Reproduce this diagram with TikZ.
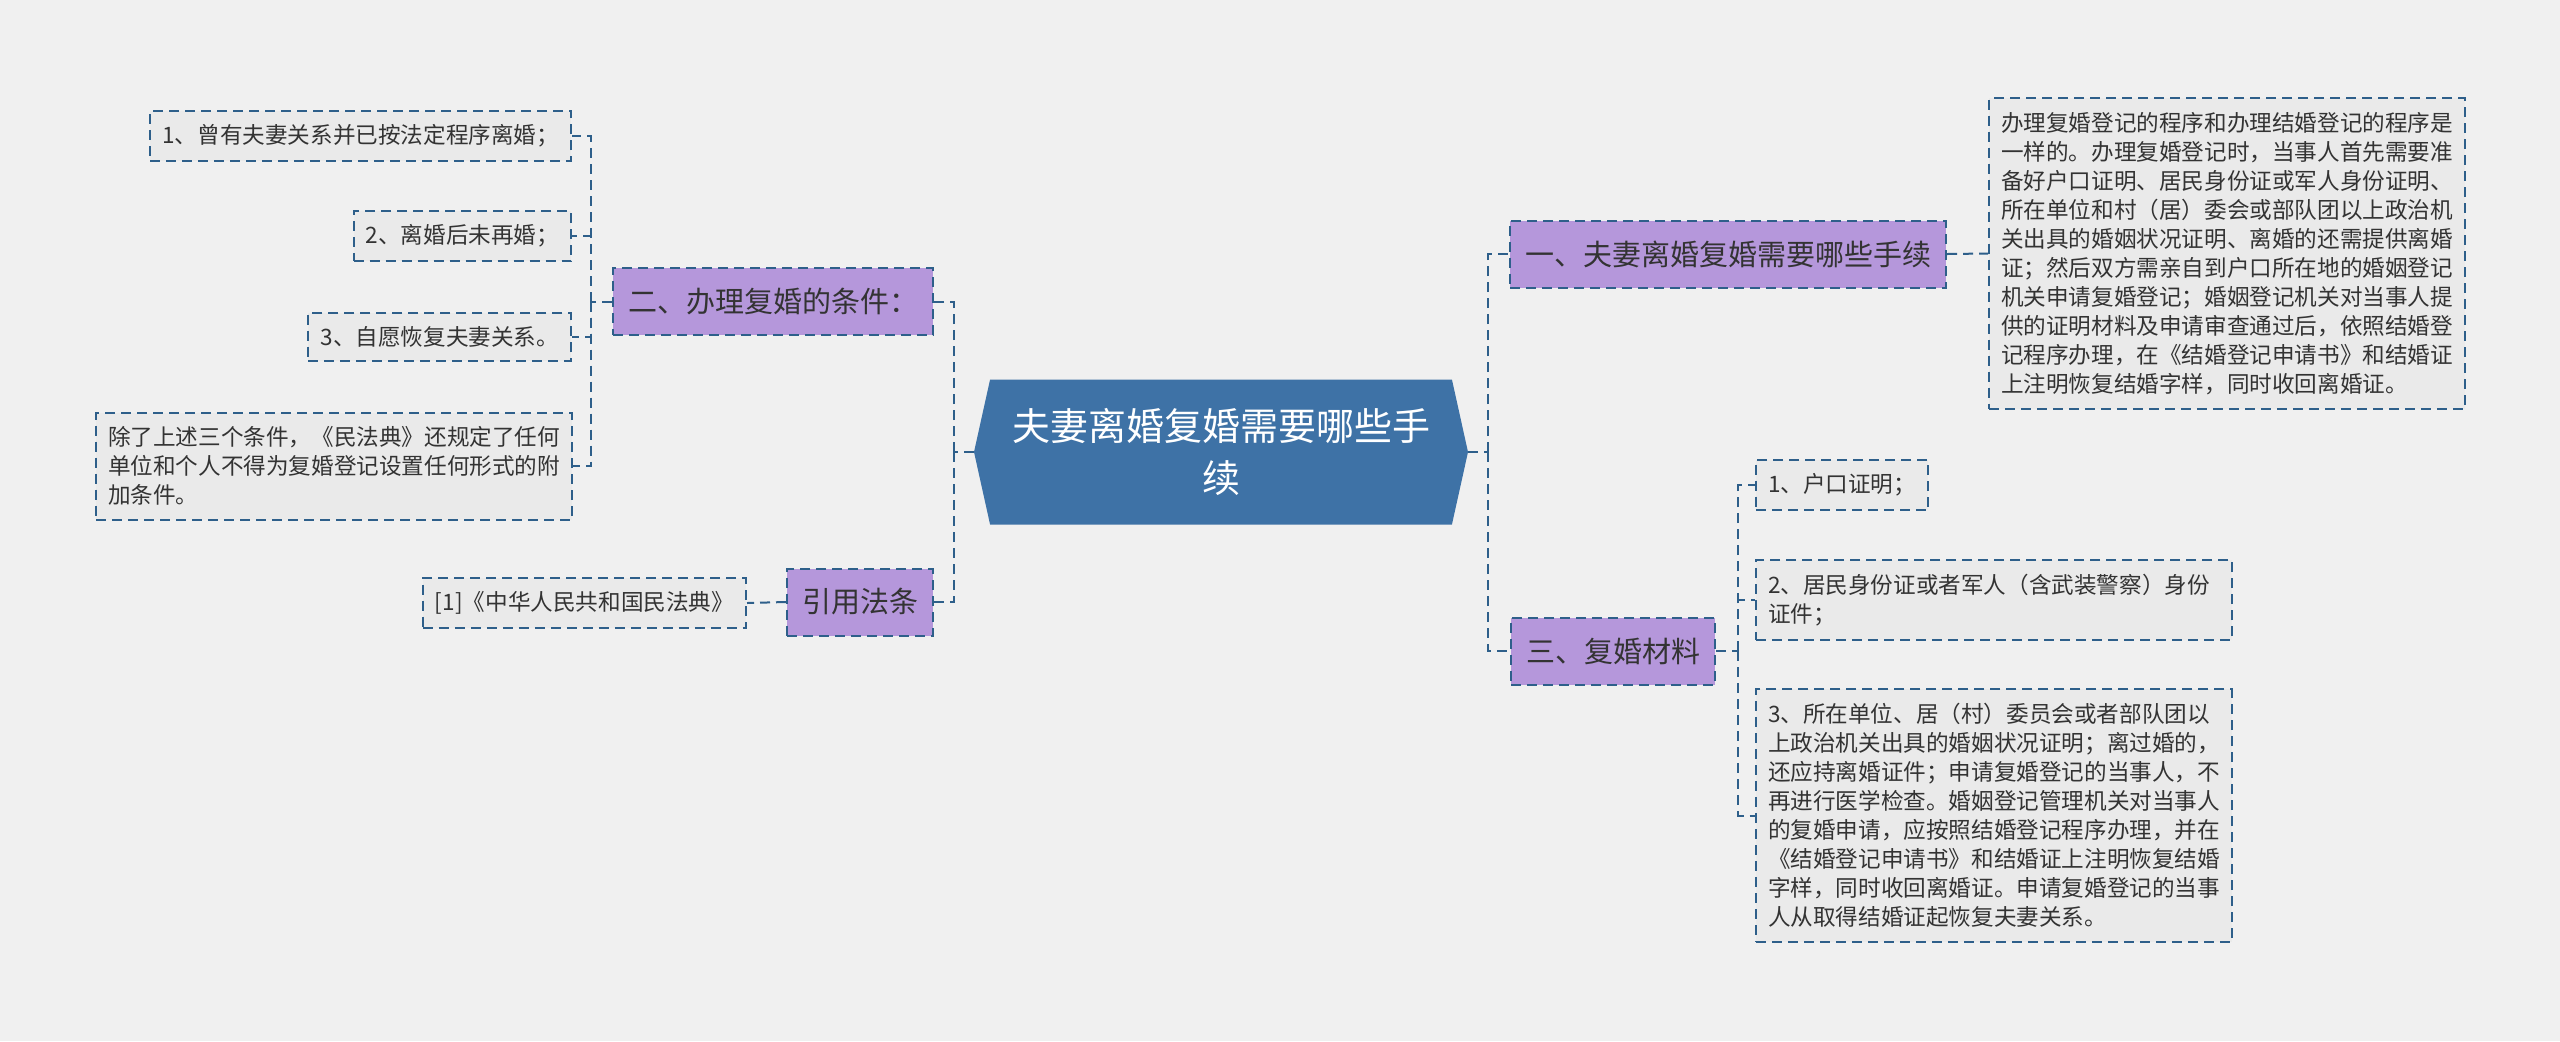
\documentclass[tikz,border=0pt]{standalone}
\usepackage{fontspec}
\setmainfont{Noto Sans CJK SC}
\usetikzlibrary{shapes.symbols, positioning, backgrounds}
\definecolor{rootBlue}{HTML}{3E72A6}
\definecolor{topicPurple}{HTML}{B597DB}
\definecolor{lineBlue}{HTML}{2E5F8A}
\definecolor{leafGray}{HTML}{EAEAEA}
\definecolor{paper}{HTML}{F0F0F0}
\tikzset{rootNode/.style={shape=signal, signal to=west and east, signal pointer angle=155, fill=rootBlue, text=white, align=center, font=\fontsize{19}{26}\selectfont, minimum width=247pt, minimum height=72.5pt, inner sep=0pt}}
\tikzset{topicNode/.style={shape=rectangle, draw=lineBlue, line width=1pt, dash pattern=on 5pt off 3pt, fill=topicPurple, text=black!80, font=\fontsize{14.5}{17}\selectfont, minimum height=33.5pt, inner xsep=7.5pt}}
\tikzset{leafNode/.style={shape=rectangle, draw=lineBlue, line width=1pt, dash pattern=on 5pt off 3pt, fill=leafGray, text=black!80, align=left, font=\fontsize{11.3}{14.5}\selectfont, inner xsep=6pt, inner ysep=7pt}}
\tikzset{link/.style={draw=lineBlue, line width=1pt, dash pattern=on 5pt off 3pt}}

\begin{document}
\begin{tikzpicture}[x=0.5pt, y=-0.5pt]

\fill[paper] (0,0) rectangle (2560,1041);
\useasboundingbox (0,0) rectangle (2560,1041);

% Root
\node[rootNode] (root) at (1221,452) {夫妻离婚复婚需要哪些手\\续};

% Left branch
\node[topicNode, anchor=east] (cond) at (934,301.5) {二、办理复婚的条件：};
\node[topicNode, anchor=east] (cite) at (934,602) {引用法条};

\node[leafNode, anchor=east] (c1) at (572,136) {1、曾有夫妻关系并已按法定程序离婚；};
\node[leafNode, anchor=east] (c2) at (572,236) {2、离婚后未再婚；};
\node[leafNode, anchor=east] (c3) at (572,337) {3、自愿恢复夫妻关系。};
\node[leafNode, anchor=east, text width=226pt] (c4) at (573,466) {除了上述三个条件，《民法典》还规定了任何\\单位和个人不得为复婚登记设置任何形式的附\\加条件。};
\node[leafNode, anchor=east] (ref) at (747,603) {[1]《中华人民共和国民法典》};

% Right branch
\node[topicNode, anchor=west] (proc) at (1509,254) {一、夫妻离婚复婚需要哪些手续};
\node[topicNode, anchor=west] (mat) at (1510,651) {三、复婚材料};

\node[leafNode, anchor=west, text width=226pt] (desc) at (1988,253.5) {办理复婚登记的程序和办理结婚登记的程序是\\一样的。办理复婚登记时，当事人首先需要准\\备好户口证明、居民身份证或军人身份证明、\\所在单位和村（居）委会或部队团以上政治机\\关出具的婚姻状况证明、离婚的还需提供离婚\\证；然后双方需亲自到户口所在地的婚姻登记\\机关申请复婚登记；婚姻登记机关对当事人提\\供的证明材料及申请审查通过后，依照结婚登\\记程序办理，在《结婚登记申请书》和结婚证\\上注明恢复结婚字样，同时收回离婚证。};

\node[leafNode, anchor=west] (m1) at (1755,485) {1、户口证明；};
\node[leafNode, anchor=west, text width=226pt] (m2) at (1755,600) {2、居民身份证或者军人（含武装警察）身份\\证件；};
\node[leafNode, anchor=west, text width=226pt] (m3) at (1755,815.5) {3、所在单位、居（村）委员会或者部队团以\\上政治机关出具的婚姻状况证明；离过婚的，\\还应持离婚证件；申请复婚登记的当事人，不\\再进行医学检查。婚姻登记管理机关对当事人\\的复婚申请，应按照结婚登记程序办理，并在\\《结婚登记申请书》和结婚证上注明恢复结婚\\字样，同时收回离婚证。申请复婚登记的当事\\人从取得结婚证起恢复夫妻关系。};

% Connectors
\coordinate (lj) at ([xshift=-10pt]root.west);
\coordinate (cj) at ([xshift=-10.5pt]cond.west);
\coordinate (rj) at ([xshift=10pt]root.east);
\coordinate (mj) at ([xshift=11pt]mat.east);

\draw[link] (root.west) -- (lj);
\draw[link] (lj) |- (cond.east);
\draw[link] (lj) |- (cite.east);

\draw[link] (cond.west) -- (cj);
\draw[link] (cj) |- (c1.east);
\draw[link] (cj) |- (c2.east);
\draw[link] (cj) |- (c3.east);
\draw[link] (cj) |- (c4.east);

\draw[link] (cite.west) -- (ref.east);

\draw[link] (root.east) -- (rj);
\draw[link] (rj) |- (proc.west);
\draw[link] (rj) |- (mat.west);

\draw[link] (proc.east) -- (desc.west);

\draw[link] (mat.east) -- (mj);
\draw[link] (mj) |- (m1.west);
\draw[link] (mj) |- (m2.west);
\draw[link] (mj) |- (m3.west);

\end{tikzpicture}
\end{document}
